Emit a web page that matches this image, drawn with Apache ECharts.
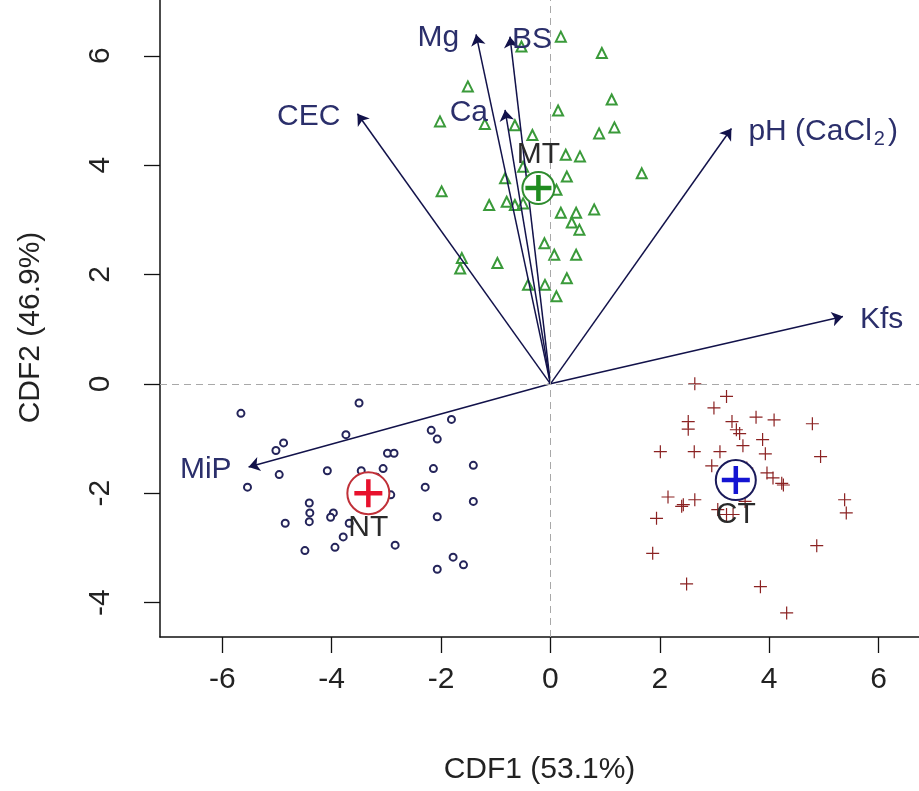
<!DOCTYPE html>
<html>
<head>
<meta charset="utf-8">
<title>CDF biplot</title>
<script src="https://cdn.jsdelivr.net/npm/echarts@6/dist/echarts.min.js"></script>
<style>
  html, body { margin: 0; padding: 0; background: #fff; }
  #chart { width: 919px; height: 791px; }
</style>
</head>
<body>
<div id="chart"></div>
<script>
// MT group (triangles)
const mtX = [0.19, -0.53, 0.94, -1.51, 1.12, 0.14, -2.02, -1.20, -0.65, 1.17, 0.89, -0.33, 0.28, 0.54, -0.50, 1.67, -0.83, 0.30, -1.99, 0.11,
  -1.12, -0.80, -0.65, -0.50, 0.19, 0.47, 0.80, 0.39, 0.53, -0.11, 0.07, 0.47, -1.62, -1.65, -0.97, 0.30, -0.41, -0.10, 0.11];
const mtY = [6.35, 6.17, 6.05, 5.44, 5.20, 5.00, 4.80, 4.75, 4.73, 4.69, 4.58, 4.55, 4.19, 4.16, 3.97, 3.85, 3.76, 3.79, 3.52, 3.55,
  3.27, 3.33, 3.27, 3.30, 3.13, 3.13, 3.19, 2.95, 2.82, 2.57, 2.36, 2.36, 2.30, 2.11, 2.21, 1.93, 1.81, 1.81, 1.60];

// NT group (circles)
const ntX = [-5.66, -3.50, -1.81, -4.88, -5.02, -3.74, -2.18, -2.07, -2.98, -2.86, -4.96, -4.08, -3.46, -3.06, -3.18, -2.14, -1.41, -5.54, -2.29, -3.54,
  -3.42, -2.92, -3.46, -3.07, -1.41, -4.41, -4.40, -4.41, -3.97, -4.02, -4.85, -3.68, -2.07, -3.79, -3.94, -4.49, -2.84, -1.78, -1.59, -2.07];
const ntY = [-0.54, -0.35, -0.65, -1.08, -1.22, -0.93, -0.85, -1.01, -1.27, -1.27, -1.66, -1.59, -1.59, -1.55, -1.71, -1.55, -1.49, -1.89, -1.89, -1.88,
  -1.88, -2.03, -2.15, -2.17, -2.15, -2.18, -2.36, -2.52, -2.36, -2.44, -2.55, -2.55, -2.43, -2.80, -2.99, -3.05, -2.95, -3.17, -3.31, -3.39];

// CT group (pluses)
const ctX = [2.64, 3.22, 2.99, 2.52, 2.52, 3.32, 3.76, 4.09, 4.79, 3.40, 3.46, 3.88, 3.52, 2.01, 2.63, 3.10, 3.93, 4.94, 2.95, 3.59,
  3.96, 4.07, 4.26, 4.23, 3.59, 2.15, 2.64, 2.43, 2.40, 5.38, 5.41, 3.06, 3.56, 3.22, 3.34, 1.94, 4.87, 1.87, 2.49, 3.84, 4.32];
const ctY = [0.00, -0.23, -0.44, -0.69, -0.83, -0.69, -0.61, -0.66, -0.73, -0.84, -0.91, -1.02, -1.13, -1.24, -1.24, -1.24, -1.28, -1.33, -1.50, -1.54,
  -1.63, -1.72, -1.85, -1.82, -1.91, -2.07, -2.12, -2.21, -2.24, -2.12, -2.36, -2.30, -2.15, -2.39, -2.39, -2.46, -2.96, -3.10, -3.66, -3.71, -4.19];

// group centroids
const groupNames = ['MT', 'NT', 'CT'];
const centroidX = [-0.22, -3.33, 3.39];
const centroidY = [3.58, -2.00, -1.76];

// structure vectors
const vectorNames = ['MiP', 'Kfs', 'pH (CaCl2)', 'CEC', 'Mg', 'BS', 'Ca'];
const vectorX = [-5.52, 5.35, 3.31, -3.53, -1.36, -0.74, -0.83];
const vectorY = [-1.52, 1.23, 4.67, 4.94, 6.39, 6.35, 5.01];

const xTicks = [-6, -4, -2, 0, 2, 4, 6];
const yTicks = [-4, -2, 0, 2, 4, 6];

const FONT = '"Liberation Sans", Arial, sans-serif';
const FS = 30;
const PLUS = 'path://M0,5L10,5M5,0L5,10';
const zip = (xs, ys) => xs.map((x, i) => [x, ys[i]]);

const groupColor = { MT: '#1f8c1f', NT: '#e8112d', CT: '#1414d2' };
const ringColor = { MT: '#2e8b2e', NT: '#c03038', CT: '#1a1a5a' };
const ringSize = { MT: 32, NT: 42, CT: 40 };
const leftLabels = ['MiP', 'CEC', 'Mg', 'Ca'];

const chart = echarts.init(document.getElementById('chart'), null, { renderer: 'canvas' });

const series = [
  {
    name: 'MT',
    type: 'scatter',
    data: zip(mtX, mtY),
    symbol: 'emptyTriangle',
    symbolSize: 10,
    itemStyle: { color: '#3a9a3a', borderWidth: 1, opacity: 1 },
    markLine: {
      silent: true,
      symbol: 'none',
      label: { show: false },
      lineStyle: { color: '#a8a8a8', type: [7, 5], width: 1 },
      data: [{ xAxis: 0 }, { yAxis: 0 }]
    },
    z: 2
  },
  {
    name: 'NT',
    type: 'scatter',
    data: zip(ntX, ntY),
    symbol: 'emptyCircle',
    symbolSize: 7,
    itemStyle: { color: '#24245a', borderWidth: 1, opacity: 1 },
    z: 2
  },
  {
    name: 'CT',
    type: 'scatter',
    data: zip(ctX, ctY),
    symbol: PLUS,
    symbolSize: 13,
    itemStyle: { color: 'none', borderColor: '#8b2222', borderWidth: 1.2, opacity: 1 },
    z: 2
  },
  {
    name: 'vectors',
    type: 'lines',
    coordinateSystem: 'cartesian2d',
    data: vectorNames.map((n, i) => ({ coords: [[0, 0], [vectorX[i], vectorY[i]]] })),
    symbol: ['none', 'arrow'],
    symbolSize: [0, 11],
    lineStyle: { color: '#12124a', width: 1.5, opacity: 1 },
    z: 4
  },
  {
    name: 'vectorLabels',
    type: 'scatter',
    data: vectorNames.map((n, i) => ({ name: n, value: [vectorX[i], vectorY[i]] })),
    symbolSize: 0,
    silent: true,
    itemStyle: { opacity: 1 },
    label: {
      show: true,
      fontFamily: FONT,
      fontSize: FS,
      color: '#2b2f6b',
      padding: [6, 0, 0, 0],
      formatter: p => p.name.replace('CaCl2', 'CaCl{sub|2}'),
      rich: { sub: { fontSize: 20, color: '#2b2f6b', fontFamily: FONT, padding: [16, 3, 0, 2] } }
    },
    z: 5
  }
];

// label side per vector
series[4].data.forEach(d => {
  const left = leftLabels.includes(d.name);
  d.label = { position: left ? 'left' : 'right', distance: d.name === 'BS' ? 2 : 17 };
});

groupNames.forEach((g, i) => {
  series.push({
    name: g + ' ring',
    type: 'scatter',
    data: [[centroidX[i], centroidY[i]]],
    symbol: 'emptyCircle',
    symbolSize: ringSize[g],
    itemStyle: { color: ringColor[g], borderWidth: 1.2, opacity: 1 },
    z: 6
  });
  series.push({
    name: g + ' centroid',
    type: 'scatter',
    data: [[centroidX[i], centroidY[i]]],
    symbol: PLUS,
    symbolSize: g === 'MT' ? 26 : 28,
    itemStyle: { color: 'none', borderColor: groupColor[g], borderWidth: 4.5, opacity: 1 },
    label: {
      show: true,
      formatter: g,
      position: g === 'MT' ? 'top' : 'bottom',
      distance: 3,
      fontFamily: FONT,
      fontSize: FS,
      color: '#2a2a2a'
    },
    z: 7
  });
});

chart.setOption({
  animation: false,
  backgroundColor: '#fff',
  grid: { left: 160, right: 0, top: 0, bottom: 154 },
  xAxis: {
    type: 'value',
    min: -7.14,
    max: 6.74,
    name: 'CDF1 (53.1%)',
    nameLocation: 'middle',
    nameGap: 118,
    nameTextStyle: { fontFamily: FONT, fontSize: FS, color: '#222' },
    axisLine: { show: true, onZero: false, lineStyle: { color: '#111', width: 1.5 } },
    axisTick: { show: true, inside: false, length: 16, customValues: xTicks, lineStyle: { color: '#111', width: 1.3 } },
    axisLabel: { customValues: xTicks, fontFamily: FONT, fontSize: FS, color: '#222', margin: 28 },
    splitLine: { show: false }
  },
  yAxis: {
    type: 'value',
    min: -4.63,
    max: 7.02,
    name: 'CDF2 (46.9%)',
    nameLocation: 'middle',
    nameGap: 114,
    nameTextStyle: { fontFamily: FONT, fontSize: FS, color: '#222', padding: [0, 18, 0, 0] },
    axisLine: { show: true, onZero: false, lineStyle: { color: '#111', width: 1.5 } },
    axisTick: { show: true, inside: false, length: 16, customValues: yTicks, lineStyle: { color: '#111', width: 1.3 } },
    axisLabel: { customValues: yTicks, rotate: 90, fontFamily: FONT, fontSize: FS, color: '#222', margin: 44 },
    splitLine: { show: false }
  },
  series: series
});
</script>
</body>
</html>
